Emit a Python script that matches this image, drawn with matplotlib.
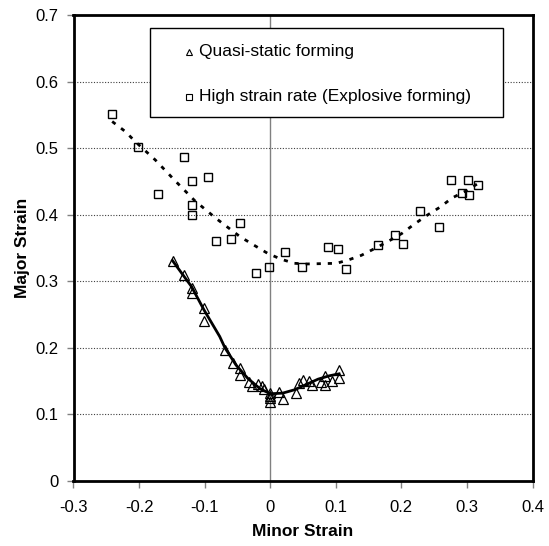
import matplotlib
matplotlib.use("Agg")
import matplotlib.pyplot as plt
from matplotlib.patches import Rectangle

plt.rcParams['font.family'] = ['Liberation Sans', 'DejaVu Sans']

# Quasi-static forming (triangles)
quasi_x = [-0.149, -0.131, -0.120, -0.120, -0.101, -0.101, -0.069, -0.057, -0.046, -0.046,
           -0.033, -0.028, -0.019, -0.012, -0.009, -0.001, 0.000, 0.000, 0.000, 0.014,
           0.020, 0.039, 0.044, 0.050, 0.059, 0.064, 0.078, 0.083, 0.084, 0.094, 0.105, 0.105]
quasi_y = [0.331, 0.310, 0.290, 0.282, 0.260, 0.241, 0.197, 0.178, 0.170, 0.159,
           0.148, 0.142, 0.146, 0.142, 0.138, 0.132, 0.128, 0.124, 0.119, 0.134,
           0.123, 0.132, 0.147, 0.152, 0.150, 0.144, 0.149, 0.158, 0.144, 0.150, 0.166, 0.154]

# High strain rate (squares)
high_x = [-0.241, -0.201, -0.171, -0.132, -0.120, -0.120, -0.120, -0.095, -0.083, -0.060,
          -0.046, -0.022, -0.002, 0.023, 0.049, 0.088, 0.104, 0.116, 0.165, 0.191,
          0.203, 0.229, 0.258, 0.275, 0.293, 0.301, 0.303, 0.317]
high_y = [0.551, 0.501, 0.431, 0.486, 0.450, 0.415, 0.400, 0.457, 0.361, 0.363,
          0.387, 0.312, 0.322, 0.344, 0.322, 0.351, 0.349, 0.318, 0.354, 0.370,
          0.356, 0.406, 0.381, 0.452, 0.432, 0.452, 0.430, 0.444]

# Trend lines
quasi_trend_x = [-0.149, -0.120, -0.101, -0.077, -0.069, -0.052, -0.034, -0.016, 0.000,
                 0.019, 0.037, 0.055, 0.073, 0.090, 0.105]
quasi_trend_y = [0.331, 0.292, 0.257, 0.217, 0.200, 0.174, 0.154, 0.139, 0.131,
                 0.132, 0.137, 0.145, 0.153, 0.158, 0.161]
high_trend_x = [-0.241, -0.221, -0.206, -0.175, -0.146, -0.115, -0.082, -0.046, -0.026,
                -0.004, 0.017, 0.037, 0.055, 0.101, 0.119, 0.139, 0.159, 0.180, 0.201,
                0.220, 0.239, 0.260, 0.277, 0.299, 0.317]
high_trend_y = [0.540, 0.525, 0.510, 0.482, 0.452, 0.421, 0.394, 0.367, 0.355,
                0.342, 0.333, 0.327, 0.326, 0.327, 0.332, 0.339, 0.349, 0.360, 0.372,
                0.386, 0.399, 0.412, 0.425, 0.436, 0.447]

x_ticks = [-0.3, -0.2, -0.1, 0, 0.1, 0.2, 0.3, 0.4]
x_tick_labels = ['-0.3', '-0.2', '-0.1', '0', '0.1', '0.2', '0.3', '0.4']
y_ticks = [0, 0.1, 0.2, 0.3, 0.4, 0.5, 0.6, 0.7]
y_tick_labels = ['0', '0.1', '0.2', '0.3', '0.4', '0.5', '0.6', '0.7']
legend_labels = ['Quasi-static forming', 'High strain rate (Explosive forming)']

fig = plt.figure(figsize=(5.49, 5.46), dpi=100)
ax = fig.add_axes([73.5 / 549, 1 - 481 / 546, 459 / 549, 466 / 546])
ax.set_xlim(-0.3, 0.4)
ax.set_ylim(0, 0.7)

# gridlines
for yv in y_ticks[1:-1]:
    ax.axhline(yv, color='#404040', linewidth=0.8, linestyle=(0, (1, 1.5)), zorder=1)
ax.axvline(0, color='#808080', linewidth=1.0, zorder=1)

ax.plot(high_x, high_y, linestyle='none', marker='s', markersize=6,
        markerfacecolor='none', markeredgecolor='black', markeredgewidth=1.0, zorder=3)
ax.plot(high_trend_x, high_trend_y, color='black', linewidth=2.0,
        dashes=(1.5, 2.5), zorder=4)

ax.plot(quasi_x, quasi_y, linestyle='none', marker='^', markersize=6.5,
        markerfacecolor='none', markeredgecolor='black', markeredgewidth=0.9, zorder=3)
ax.plot(quasi_trend_x, quasi_trend_y, color='black', linewidth=2.0, zorder=4)

ax.set_xticks(x_ticks)
ax.set_xticklabels(x_tick_labels)
ax.set_yticks(y_ticks)
ax.set_yticklabels(y_tick_labels)
ax.tick_params(axis='both', direction='out', length=5, width=1, color='#808080',
               labelsize=12, labelcolor='black')
ax.tick_params(axis='x', pad=9)
ax.tick_params(axis='y', pad=6)
for s in ax.spines.values():
    s.set_linewidth(2)
    s.set_color('black')

ax.set_xlabel('Minor Strain', fontsize=12.5, fontweight='bold', labelpad=6)
ax.set_ylabel('Major Strain', fontsize=12.5, fontweight='bold', labelpad=4)

# legend box
lx0, ly0, lx1, ly1 = 0.1667, 0.781, 0.9357, 0.972
ax.add_patch(Rectangle((lx0, ly0), lx1 - lx0, ly1 - ly0, transform=ax.transAxes,
                       facecolor='white', edgecolor='black', linewidth=1.0, zorder=10))
ax.plot([0.251], [0.921], marker='^', markersize=5, markerfacecolor='none',
        markeredgecolor='black', markeredgewidth=0.8, transform=ax.transAxes, zorder=11,
        clip_on=False)
ax.plot([0.251], [0.825], marker='s', markersize=4.5, markerfacecolor='none',
        markeredgecolor='black', markeredgewidth=0.8, transform=ax.transAxes, zorder=11,
        clip_on=False)
ax.text(0.274, 0.921, legend_labels[0], transform=ax.transAxes, fontsize=12.5,
        va='center', ha='left', zorder=11)
ax.text(0.274, 0.825, legend_labels[1], transform=ax.transAxes, fontsize=12.5,
        va='center', ha='left', zorder=11)

fig.savefig('out.png', dpi=100)
